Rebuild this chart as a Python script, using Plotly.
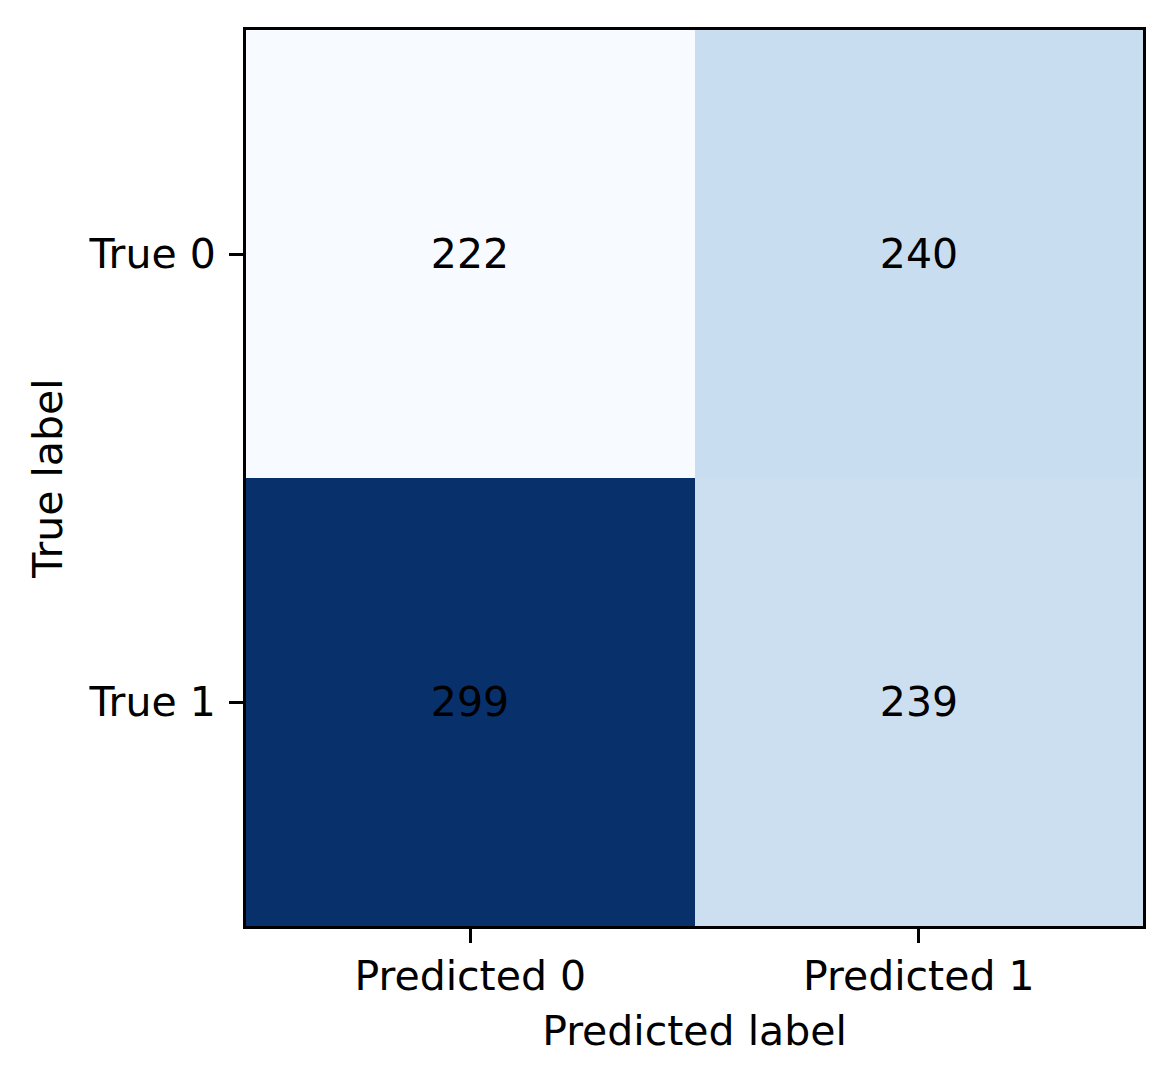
import plotly.graph_objects as go
import plotly.colors as pc

# confusion matrix values
x_labels = ["Predicted 0", "Predicted 1"]
y_labels = ["True 0", "True 1"]
counts = [[222, 240],
          [299, 239]]

font_family = "DejaVu Sans"
fsize = 41

fig = go.Figure()

fig.add_trace(go.Heatmap(
    z=counts,
    x=x_labels,
    y=y_labels,
    colorscale=pc.sequential.Blues,
    zmin=min(min(r) for r in counts),
    zmax=max(max(r) for r in counts),
    showscale=False,
    texttemplate="%{z}",
    textfont=dict(color="black", size=fsize, family=font_family),
    xgap=0, ygap=0,
))

axis_style = dict(
    showline=True, linecolor="black", linewidth=3, mirror=True,
    ticks="outside", ticklen=14, tickwidth=3, tickcolor="black",
    showgrid=False, zeroline=False,
    tickfont=dict(size=fsize, family=font_family, color="black"),
)

# page body has an 8px margin, so the figure is 8px smaller
fig.update_layout(
    width=1164, height=1078,
    margin=dict(l=238, r=29, t=22, b=160),
    plot_bgcolor="white", paper_bgcolor="white",
    font=dict(family=font_family, size=fsize, color="black"),
    xaxis=dict(title=dict(text="Predicted label", standoff=18,
                          font=dict(size=fsize, family=font_family)),
               ticklabelstandoff=-2, **axis_style),
    yaxis=dict(title=dict(text="True label", standoff=14,
                          font=dict(size=fsize, family=font_family)),
               autorange="reversed", ticklabelstandoff=5, **axis_style),
)

fig.write_html("out.html")
